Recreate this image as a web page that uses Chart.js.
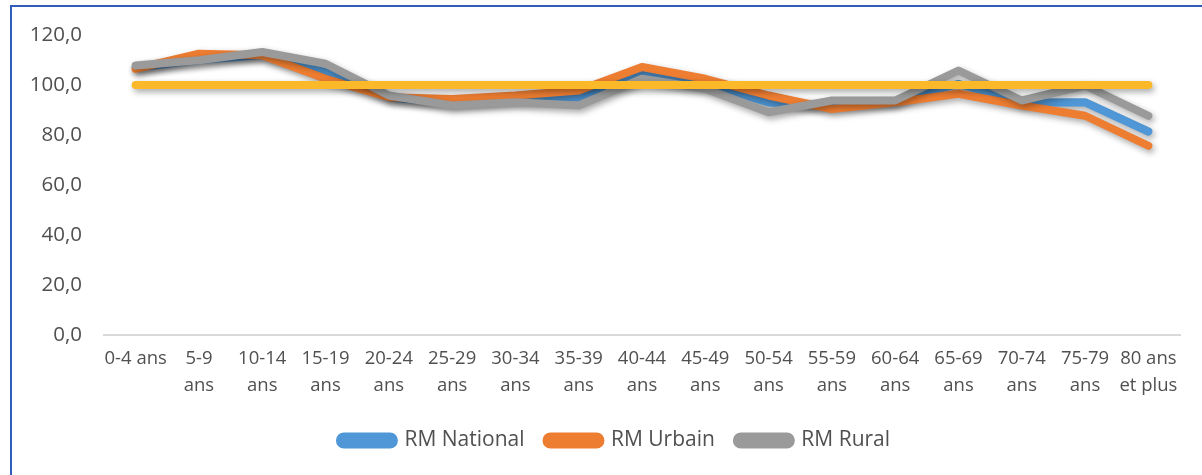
<!DOCTYPE html>
<html lang="fr">
<head>
  <meta charset="UTF-8" />
  <title>Rapport de masculinité par groupe d'âge</title>
  <script src="https://cdn.jsdelivr.net/npm/chart.js"></script>
  <style>
    html, body { margin: 0; padding: 0; background: #fff; }
    #wrap { position: relative; width: 1202px; height: 475px; }
    #frame {
      position: absolute; left: 10px; top: 5px; right: 0; bottom: 0;
      border-left: 2px solid #2f5db8; border-top: 2px solid #2f5db8;
      pointer-events: none;
    }
  </style>
</head>
<body>
  <div id="wrap">
    <canvas id="rmChart" width="1202" height="475"></canvas>
    <div id="frame"></div>
  </div>

  <script>
    const ageGroups = [
      '0-4 ans', ['5-9', 'ans'], ['10-14', 'ans'], ['15-19', 'ans'], ['20-24', 'ans'],
      ['25-29', 'ans'], ['30-34', 'ans'], ['35-39', 'ans'], ['40-44', 'ans'], ['45-49', 'ans'],
      ['50-54', 'ans'], ['55-59', 'ans'], ['60-64', 'ans'], ['65-69', 'ans'], ['70-74', 'ans'],
      ['75-79', 'ans'], ['80 ans', 'et plus']
    ];
    const rmNational = [107.0, 110.0, 112.0, 105.2, 95.0, 93.0, 94.5, 95.0, 104.5, 100.5, 93.0, 91.8, 93.5, 100.5, 93.0, 93.1, 81.4];
    const rmUrbain   = [106.5, 112.5, 111.9, 102.5, 95.1, 94.4, 95.8, 97.8, 107.2, 102.5, 95.8, 90.4, 93.1, 96.5, 91.8, 87.7, 75.7];
    const rmRural    = [107.8, 109.9, 113.2, 108.5, 95.8, 91.8, 93.1, 91.8, 102.5, 98.5, 89.1, 93.8, 93.8, 105.8, 93.8, 99.8, 87.7];
    const equilibre  = [100, 100, 100, 100, 100, 100, 100, 100, 100, 100, 100, 100, 100, 100, 100, 100, 100];
    const yTicks = [0, 20, 40, 60, 80, 100, 120];

    const textColor = '#505050';
    const fontFamily = '"Open Sans", "Liberation Sans", sans-serif';

    // ombre portée sous chaque courbe, comme dans Excel
    const lineShadow = {
      id: 'lineShadow',
      beforeDatasetDraw(chart) {
        const ctx = chart.ctx;
        ctx.save();
        ctx.shadowColor = 'rgba(0,0,0,0.35)';
        ctx.shadowBlur = 6;
        ctx.shadowOffsetX = 2;
        ctx.shadowOffsetY = 3;
      },
      afterDatasetDraw(chart) {
        chart.ctx.restore();
      }
    };

    // la légende de l'original est un peu décalée vers la droite
    const legendShift = {
      id: 'legendShift',
      afterLayout(chart) {
        chart.legend.left += 13;
        chart.legend.right += 13;
      }
    };

    function serie(label, data, color, order) {
      return {
        label, data, order,
        borderColor: color,
        backgroundColor: color,
        borderWidth: 8,
        borderCapStyle: 'round',
        borderJoinStyle: 'round',
        pointRadius: 0,
        pointHoverRadius: 0,
        tension: 0
      };
    }

    new Chart(document.getElementById('rmChart'), {
      type: 'line',
      data: {
        labels: ageGroups,
        datasets: [
          serie('RM National', rmNational, '#4f97d6', 4),
          serie('RM Urbain', rmUrbain, '#ed7d31', 3),
          serie('RM Rural', rmRural, '#9a9a9a', 2),
          serie('Équilibre', equilibre, '#fbb829', 1)
        ]
      },
      options: {
        responsive: false,
        animation: false,
        layout: { padding: { left: 24, right: 22, top: 35, bottom: 14 } },
        plugins: {
          tooltip: { enabled: false },
          legend: {
            position: 'bottom',
            labels: {
              filter: item => item.datasetIndex < 3,
              sort: (a, b) => a.datasetIndex - b.datasetIndex,
              boxWidth: 54,
              boxHeight: 8,
              useBorderRadius: true,
              borderRadius: 4,
              padding: 22,
              color: textColor,
              font: { family: fontFamily, size: 21 }
            }
          }
        },
        scales: {
          x: {
            offset: true,
            grid: { display: false, drawTicks: false },
            border: { display: true, color: '#d9d9d9', width: 2 },
            ticks: {
              maxRotation: 0,
              autoSkip: false,
              padding: 10,
              color: textColor,
              font: { family: fontFamily, size: 18.5, lineHeight: 1.45 }
            },
            afterFit(scale) { scale.height = 73; }
          },
          y: {
            min: 0,
            max: 120,
            grid: { display: false, drawTicks: false },
            border: { display: false },
            afterBuildTicks(scale) { scale.ticks = yTicks.map(v => ({ value: v })); },
            ticks: {
              padding: 22,
              color: textColor,
              font: { family: fontFamily, size: 20.5 },
              callback: v => v.toFixed(1).replace('.', ',')
            },
            afterFit(scale) { scale.width = 80; }
          }
        }
      },
      plugins: [lineShadow, legendShift]
    });
  </script>
</body>
</html>
